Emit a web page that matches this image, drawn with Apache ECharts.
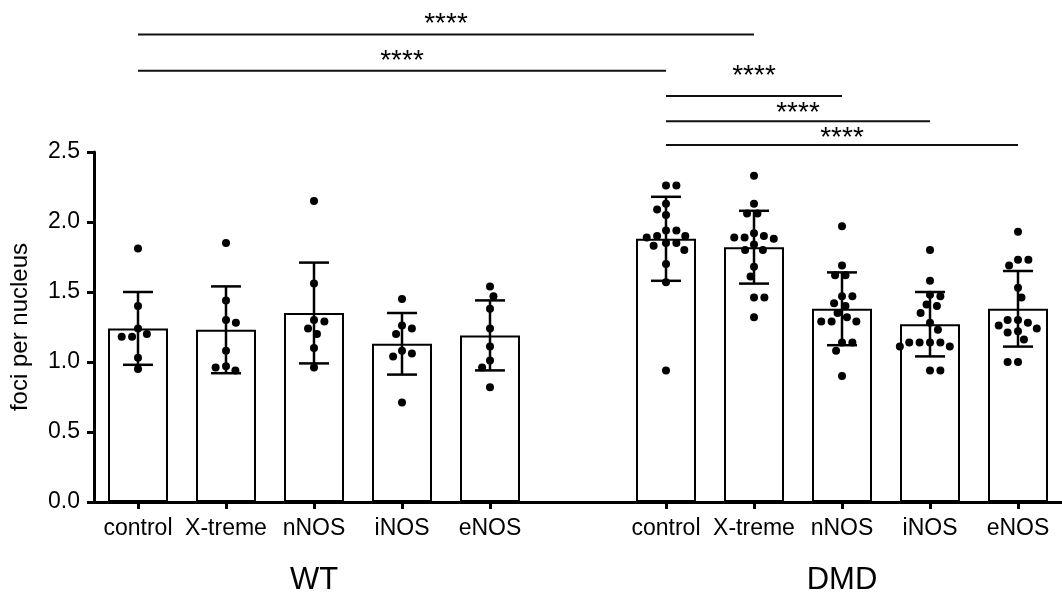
<!DOCTYPE html>
<html><head><meta charset="utf-8">
<script src="https://cdn.jsdelivr.net/npm/echarts@6/dist/echarts.min.js"></script>
<style>html,body{margin:0;padding:0;background:#fff}#c{width:1062px;height:597px}</style>
</head><body><div id="c"></div>
<script>
// ---------- data ----------
const categories = ['control','X-treme','nNOS','iNOS','eNOS','','control','X-treme','nNOS','iNOS','eNOS'];
const groupLabels = ['','','WT','','','','','','DMD','',''];
const yMin = 0, yMax = 2.5, yStep = 0.5;
const yAxisTitle = 'foci per nucleus';

const wtMeans = [1.24, 1.23, 1.35, 1.13, 1.19];
const wtSD    = [0.26, 0.31, 0.36, 0.22, 0.25];
const dmdMeans = [1.88, 1.82, 1.38, 1.27, 1.38];
const dmdSD    = [0.30, 0.26, 0.26, 0.23, 0.27];

const wtControl = [1.81, 1.40, 1.24, 1.20, 1.18, 1.18, 1.03, 0.95];
const wtXtreme  = [1.85, 1.44, 1.28, 1.30, 1.08, 0.97, 0.94, 0.96];
const wtNNOS    = [2.15, 1.56, 1.30, 1.29, 1.20, 1.24, 1.10, 0.96];
const wtINOS    = [1.45, 1.26, 1.20, 1.24, 1.06, 1.08, 1.04, 0.71];
const wtENOS    = [1.54, 1.47, 1.38, 1.24, 1.11, 1.01, 0.96, 0.82];
const dmdControl = [2.26, 2.26, 2.13, 2.09, 2.05, 1.94, 1.94, 1.90, 1.89, 1.90, 1.85, 1.83, 1.85, 1.80, 1.70, 1.57, 0.94];
const dmdXtreme  = [2.33, 2.13, 2.06, 2.06, 1.92, 1.89, 1.88, 1.89, 1.90, 1.84, 1.80, 1.80, 1.68, 1.61, 1.46, 1.46, 1.32];
const dmdNNOS    = [1.97, 1.69, 1.62, 1.62, 1.47, 1.47, 1.42, 1.40, 1.35, 1.32, 1.29, 1.29, 1.29, 1.14, 1.14, 1.08, 0.90];
const dmdINOS    = [1.80, 1.58, 1.47, 1.48, 1.40, 1.41, 1.35, 1.28, 1.23, 1.14, 1.14, 1.11, 1.11, 1.14, 1.14, 0.94, 0.94];
const dmdENOS    = [1.93, 1.73, 1.73, 1.69, 1.53, 1.46, 1.30, 1.26, 1.28, 1.30, 1.24, 1.21, 1.22, 1.16, 1.00, 1.00];

// significance comparisons: [fromCategory, toCategory, bar level, label level]
const comparisons = [
  [0, 7, 3.34, 3.41],
  [0, 6, 3.08, 3.15],
  [6, 8, 2.90, 3.04],
  [6, 9, 2.72, 2.78],
  [6, 10, 2.55, 2.60]
];
const sigLabel = '****';

// ---------- build ----------
const GRID = {left: 92, top: 152, width: 979, height: 350};
const FONT = '"Liberation Sans", Arial, sans-serif';
const means = [...wtMeans, null, ...dmdMeans];
const sds = [...wtSD, null, ...dmdSD];
const points = [wtControl, wtXtreme, wtNNOS, wtINOS, wtENOS, [], dmdControl, dmdXtreme, dmdNNOS, dmdINOS, dmdENOS];

const pxPerCat = GRID.width / categories.length;
const pxPerY = GRID.height / (yMax - yMin);
const DOT = 8, MINDIST = 10.3;

function swarm(values) {
  const order = values.map((v, i) => i).sort((a, b) => values[b] - values[a]);
  const placed = [];
  const out = new Array(values.length);
  let pref = 1;
  for (const idx of order) {
    const y = values[idx] * pxPerY;
    let best = null;
    for (let k = 0; k < 400 && best === null; k++) {
      const mag = k * 0.5;
      const sides = mag === 0 ? [1] : [pref, -pref];
      for (const s of sides) {
        const dx = s * mag;
        if (placed.every(p => Math.hypot(p.x - dx, p.y - y) >= MINDIST)) { best = dx; break; }
      }
    }
    if (best !== 0) pref = best > 0 ? -1 : 1;
    placed.push({x: best, y});
    out[idx] = best / pxPerCat;
  }
  return out;
}

const scatterData = [];
points.forEach((vals, ci) => {
  if (!vals.length) return;
  const offs = swarm(vals);
  vals.forEach((v, j) => scatterData.push([ci + offs[j], v]));
});

const errData = [];
means.forEach((m, i) => { if (m !== null) errData.push([i, m, sds[i]]); });

const chart = echarts.init(document.getElementById('c'), null, {renderer: 'canvas'});
chart.setOption({
  backgroundColor: '#fff',
  animation: false,
  grid: {left: GRID.left, top: GRID.top, width: GRID.width, height: GRID.height, containLabel: false},
  xAxis: [
    {
      type: 'category', data: categories, position: 'bottom',
      axisLine: {show: true, onZero: false, lineStyle: {color: '#000', width: 3}},
      axisTick: {show: true, alignWithLabel: true, length: 7, lineStyle: {color: '#000', width: 3},
                 interval: (i, v) => v !== ''},
      axisLabel: {interval: 0, color: '#000', fontSize: 23, fontFamily: FONT, margin: 15},
      splitLine: {show: false}
    },
    {
      type: 'category', data: groupLabels, position: 'bottom', offset: 50,
      axisLine: {show: false, onZero: false}, axisTick: {show: false},
      axisLabel: {interval: 0, color: '#000', fontSize: 31, fontFamily: FONT, margin: 13},
      splitLine: {show: false}
    },
    {
      type: 'value', min: -0.5, max: categories.length - 0.5, show: false,
      axisLine: {onZero: false}
    }
  ],
  yAxis: {
    type: 'value', min: yMin, max: yMax, interval: yStep,
    name: yAxisTitle, nameLocation: 'middle', nameGap: 62,
    nameTextStyle: {fontSize: 24, fontFamily: FONT, color: '#000'},
    axisLine: {show: true, onZero: false, lineStyle: {color: '#000', width: 3}},
    axisTick: {show: true, length: 7, lineStyle: {color: '#000', width: 3}},
    axisLabel: {color: '#000', fontSize: 23, fontFamily: FONT, margin: 14, formatter: v => v.toFixed(1)},
    splitLine: {show: false}
  },
  series: [
    {
      type: 'bar', data: means, xAxisIndex: 0, barWidth: 60, z: 2,
      itemStyle: {color: '#fff', borderColor: '#000', borderWidth: 2},
      silent: true
    },
    {
      type: 'custom', xAxisIndex: 0, z: 3, silent: true, clip: false,
      data: errData, encode: {x: 0, y: 1},
      renderItem: (params, api) => {
        const x = api.value(0), m = api.value(1), s = api.value(2);
        const top = api.coord([x, m + s]), bot = api.coord([x, m - s]);
        const hw = 15;
        const st = {stroke: '#000', lineWidth: 2.5};
        return {type: 'group', children: [
          {type: 'line', shape: {x1: top[0], y1: top[1], x2: bot[0], y2: bot[1]}, style: st},
          {type: 'line', shape: {x1: top[0] - hw, y1: top[1], x2: top[0] + hw, y2: top[1]}, style: st},
          {type: 'line', shape: {x1: bot[0] - hw, y1: bot[1], x2: bot[0] + hw, y2: bot[1]}, style: st}
        ]};
      }
    },
    {
      type: 'scatter', xAxisIndex: 2, z: 4, silent: true,
      data: scatterData, symbol: 'circle', symbolSize: DOT,
      itemStyle: {color: '#000', opacity: 1}
    },
    {
      type: 'custom', xAxisIndex: 0, z: 5, silent: true, clip: false,
      data: comparisons, encode: {x: 0, y: 2},
      renderItem: (params, api) => {
        const a = api.coord([api.value(0), api.value(2)]);
        const b = api.coord([api.value(1), api.value(2)]);
        const l = api.coord([api.value(0), api.value(3)]);
        return {type: 'group', children: [
          {type: 'line', shape: {x1: a[0], y1: a[1], x2: b[0], y2: b[1]}, style: {stroke: '#111', lineWidth: 2}},
          {type: 'text', style: {x: (a[0] + b[0]) / 2, y: l[1], text: sigLabel, fill: '#000',
            font: '28px ' + FONT, align: 'center', verticalAlign: 'middle'}}
        ]};
      }
    }
  ]
});
</script>
</body></html>
